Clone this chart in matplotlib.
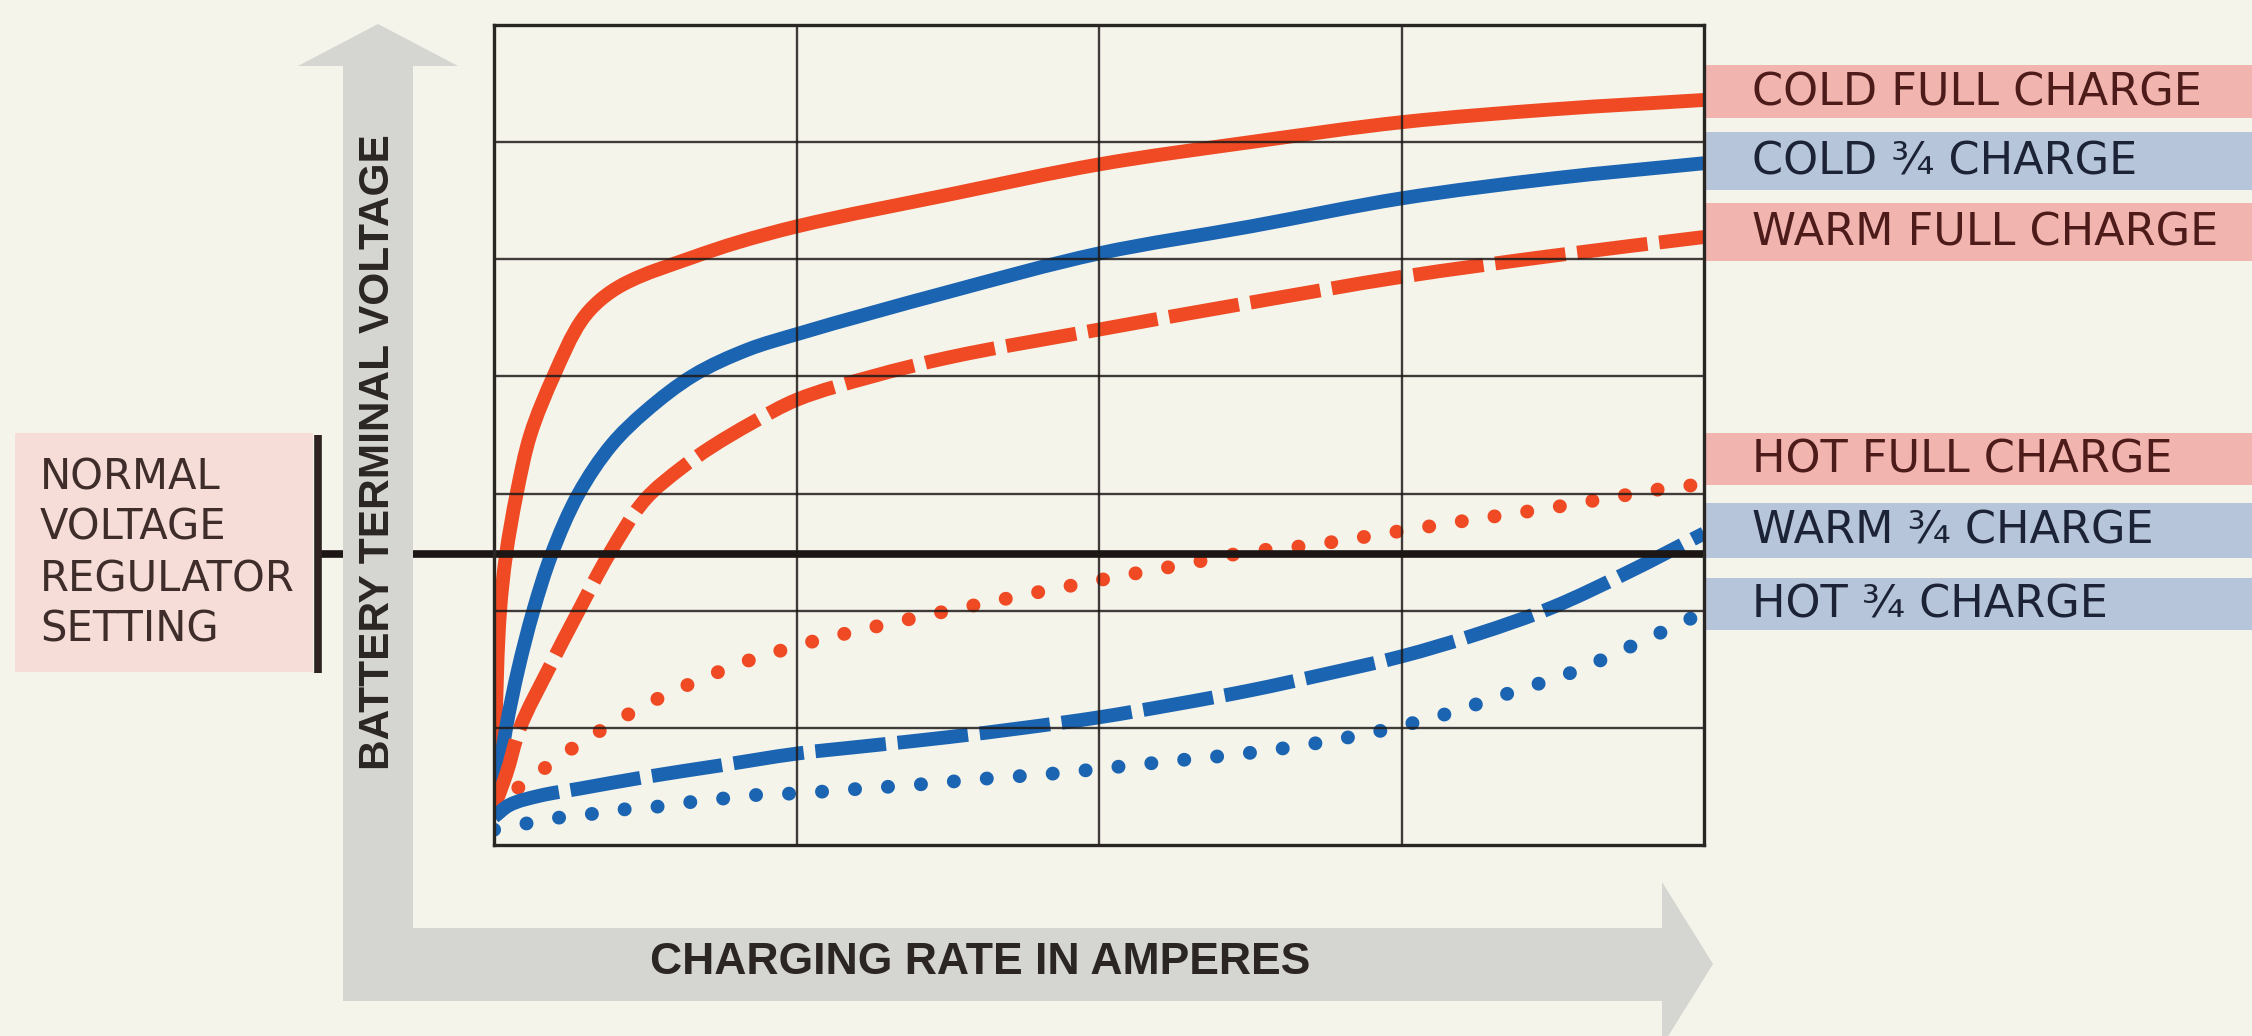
import numpy as np
import matplotlib
matplotlib.use("Agg")
import matplotlib.pyplot as plt
from matplotlib.path import Path
from matplotlib.patches import Polygon, Rectangle, PathPatch
from matplotlib.transforms import blended_transform_factory

# ---------------------------------------------------------------------------
# Charging rate (in grid columns, 0-4) against battery terminal voltage
# (in grid rows, 0-7) for six battery conditions.
# ---------------------------------------------------------------------------
cold_full_x = [0.0, 0.005, 0.02, 0.04, 0.075, 0.12, 0.20, 0.29, 0.35, 0.43,
               0.66, 0.80, 1.0, 1.5, 2.0, 2.5, 3.0, 3.5, 4.0]
cold_full_y = [0.35, 1.0, 2.0, 2.48, 3.0, 3.5, 4.02, 4.48, 4.65, 4.79,
               5.02, 5.14, 5.28, 5.55, 5.81, 6.0, 6.17, 6.28, 6.36]

cold_34_x = [0.0, 0.04, 0.08, 0.13, 0.19, 0.28, 0.39, 0.50, 0.66, 0.84,
             1.0, 1.5, 2.0, 2.5, 3.0, 3.5, 4.0]
cold_34_y = [0.30, 1.0, 1.5, 2.0, 2.48, 3.0, 3.42, 3.70, 4.01, 4.23,
             4.36, 4.72, 5.05, 5.28, 5.52, 5.69, 5.82]

warm_full_x = [0.0, 0.04, 0.086, 0.18, 0.28, 0.38, 0.50, 0.62, 0.72, 0.85,
               1.0, 1.25, 1.5, 2.0, 2.5, 3.0, 3.5, 4.0]
warm_full_y = [0.32, 0.6, 1.0, 1.5, 2.0, 2.48, 2.95, 3.22, 3.40, 3.60,
               3.80, 4.0, 4.16, 4.40, 4.63, 4.85, 5.03, 5.19]

hot_full_x = [0.0, 0.04, 0.13, 0.21, 0.31, 0.40, 0.49, 0.59, 0.70, 0.80,
              0.90, 1.0, 1.22, 1.43, 1.65, 1.86, 2.06, 2.27, 2.49, 2.70,
              3.02, 3.24, 3.45, 3.68, 3.89, 4.0]
hot_full_y = [0.30, 0.41, 0.58, 0.74, 0.91, 1.05, 1.18, 1.31, 1.43, 1.54,
              1.62, 1.70, 1.84, 1.96, 2.08, 2.19, 2.29, 2.39, 2.50, 2.56,
              2.69, 2.78, 2.86, 2.96, 3.05, 3.08]

warm_34_x = [0.0, 0.05, 0.15, 0.28, 0.5, 0.75, 1.0, 1.25, 1.5, 1.75, 2.0,
             2.25, 2.5, 2.75, 3.0, 3.25, 3.5, 3.75, 4.0]
warm_34_y = [0.24, 0.34, 0.42, 0.48, 0.58, 0.68, 0.78, 0.85, 0.92, 1.0, 1.09,
             1.20, 1.32, 1.46, 1.61, 1.80, 2.03, 2.33, 2.66]

hot_34_x = [0.0, 0.12, 0.23, 0.34, 0.45, 0.55, 0.66, 0.77, 0.88, 0.99, 1.21,
            1.42, 1.64, 1.85, 2.07, 2.29, 2.51, 2.72, 2.94, 3.15, 3.36, 3.57,
            3.77, 3.97]
hot_34_y = [0.13, 0.19, 0.24, 0.27, 0.31, 0.33, 0.37, 0.40, 0.43, 0.44, 0.48,
            0.52, 0.57, 0.61, 0.67, 0.73, 0.79, 0.87, 0.98, 1.12, 1.30, 1.48,
            1.71, 1.95]

normal_setting = 2.48

series_labels = ["COLD FULL CHARGE", "COLD ¾ CHARGE", "WARM FULL CHARGE",
                 "HOT FULL CHARGE", "WARM ¾ CHARGE", "HOT ¾ CHARGE"]
setting_label = ["NORMAL", "VOLTAGE", "REGULATOR", "SETTING"]
x_title = "CHARGING RATE IN AMPERES"
y_title = "BATTERY TERMINAL VOLTAGE"

# ---------------------------------------------------------------------------
W, H, DPI = 2252, 1036, 100
BG = "#f5f4eb"
RED = "#ef4a24"
BLUE = "#1b64b2"
PINK = "#f2b4ae"
PALE_PINK = "#f6ddd7"
SKY = "#b6c5da"
ARROW_GREY = "#d5d5d1"
INK = "#1c1614"

fig = plt.figure(figsize=(W / DPI, H / DPI), dpi=DPI, facecolor=BG)

# pixel-space layer for the decorative arrows, boxes and titles
bg = fig.add_axes([0, 0, 1, 1])
bg.set_xlim(0, W)
bg.set_ylim(H, 0)
bg.axis("off")
bg.set_zorder(0)

# chart area
left, right, top, bottom = 494, 1704, 25, 845
ax = fig.add_axes([left / W, 1 - bottom / H, (right - left) / W, (bottom - top) / H])
ax.set_zorder(1)
ax.patch.set_alpha(0)
ax.set_xlim(0, 4)
ax.set_ylim(0, 7)
ax.set_xticks([])
ax.set_yticks([])
for sp in ax.spines.values():
    sp.set_linewidth(2.4)
    sp.set_color("#2a2624")
    sp.set_zorder(6)

# grid
for gx in range(1, 4):
    ax.axvline(gx, color="#1e1a18", lw=1.7, alpha=0.85, zorder=5)
for gy in range(1, 7):
    ax.axhline(gy, color="#1e1a18", lw=1.7, alpha=0.85, zorder=5)


def smooth_path(xs, ys):
    """Bezier path through the given points; tangents bisect the angle
    between neighbouring segments, measured in screen proportions."""
    sx = (right - left) / 4.0
    sy = (bottom - top) / 7.0
    P = np.column_stack([np.asarray(xs, float) * sx, np.asarray(ys, float) * sy])
    n = len(P)
    seg = np.diff(P, axis=0)
    seg_len = np.hypot(seg[:, 0], seg[:, 1])
    unit = seg / seg_len[:, None]
    T = np.zeros_like(P)
    T[0] = unit[0]
    T[-1] = unit[-1]
    for i in range(1, n - 1):
        t = unit[i - 1] + unit[i]
        T[i] = t / np.hypot(*t)
    verts = [P[0]]
    codes = [Path.MOVETO]
    for i in range(n - 1):
        h = seg_len[i] / 3.0
        verts += [P[i] + T[i] * h, P[i + 1] - T[i + 1] * h, P[i + 1]]
        codes += [Path.CURVE4] * 3
    verts = np.array(verts) / [sx, sy]
    return Path(verts, codes)


LW = 10.0
dash = (0, (5.1, 0.85))
dot = (0, (0.01, 2.37))

curves = [
    (cold_full_x, cold_full_y, RED, "solid"),
    (cold_34_x, cold_34_y, BLUE, "solid"),
    (warm_full_x, warm_full_y, RED, dash),
    (hot_full_x, hot_full_y, RED, dot),
    (warm_34_x, warm_34_y, BLUE, dash),
    (hot_34_x, hot_34_y, BLUE, dot),
]
for xs, ys, col, ls in curves:
    cap = "round" if ls is dot else "butt"
    ax.add_patch(PathPatch(smooth_path(xs, ys), fill=False, edgecolor=col,
                           lw=LW, linestyle=ls, capstyle=cap,
                           joinstyle="round", zorder=3))

# regulator setting line
ax.axhline(normal_setting, color=INK, lw=5.5, zorder=6)
mixed = blended_transform_factory(bg.transData, ax.transData)
bg.plot([318, left], [normal_setting, normal_setting], color=INK, lw=5.5,
        transform=mixed, zorder=1, solid_capstyle="butt")
bg.plot([318, 318], [435, 673], color="#2e2220", lw=5.5, zorder=1,
        solid_capstyle="butt")

# grey axis arrows
arrow = Polygon([(378, 24), (458, 66), (413, 66), (413, 928), (1662, 928),
                 (1662, 882), (1713, 964), (1662, 1046), (1662, 1001),
                 (343, 1001), (343, 66), (298, 66)],
                closed=True, facecolor=ARROW_GREY, edgecolor="none", zorder=2)
bg.add_patch(arrow)

title_font = ["Liberation Sans", "DejaVu Sans"]
bg.text(378, 452, y_title, rotation=90, ha="center", va="center",
        fontsize=30.5, fontweight="bold", color="#2b2624", family=title_font,
        zorder=3)
bg.text(980, 963, x_title, ha="center", va="center", fontsize=32,
        fontweight="bold", color="#2b2624", family=title_font, zorder=3)

# regulator setting label
bg.add_patch(Rectangle((15, 433), 298, 239, facecolor=PALE_PINK,
                       edgecolor="none", zorder=1))
for line, yy in zip(setting_label, [477, 528, 580, 630]):
    bg.text(40, yy, line, ha="left", va="center", fontsize=30,
            color="#3e2d2a", family="DejaVu Sans", zorder=3)

# condition labels
box_rows = [(65, 118), (132, 190), (203, 261), (433, 485), (503, 558), (578, 630)]
box_fill = [PINK, SKY, PINK, PINK, SKY, SKY]
text_col = ["#4d1c1a", "#1c2336", "#4d1c1a", "#4d1c1a", "#1c2336", "#1c2336"]
for label, (y0, y1), fc, tc in zip(series_labels, box_rows, box_fill, text_col):
    bg.add_patch(Rectangle((right + 2, y0), W - right, y1 - y0, facecolor=fc,
                           edgecolor="none", zorder=1))
    bg.text(1752, (y0 + y1) / 2 + 1, label, ha="left", va="center",
            fontsize=32, color=tc, family="DejaVu Sans", zorder=3)

fig.savefig("out.png", dpi=DPI, facecolor=BG)
